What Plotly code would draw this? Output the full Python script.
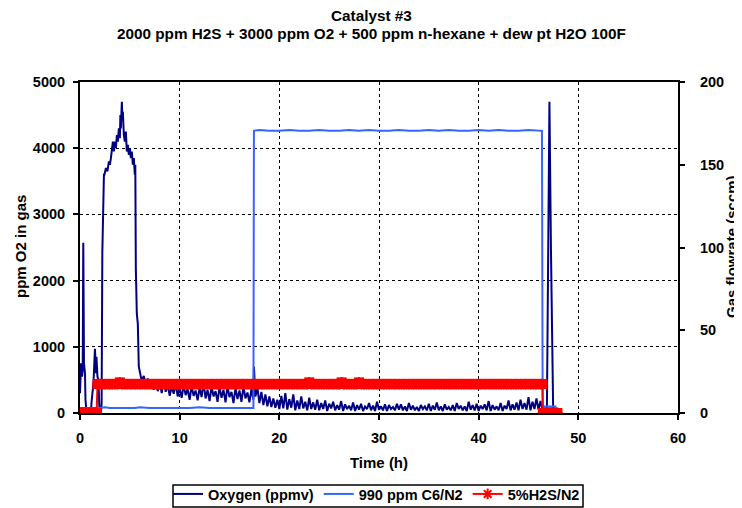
import plotly.graph_objects as go

# ---------------- data ----------------
# Oxygen (ppmv) vs time (h)
o2_time = [
    0.0, 0.1, 0.2, 0.27, 0.33, 0.4, 0.5, 0.55, 0.65, 0.9, 1.1, 1.15, 1.35, 1.5, 1.6, 1.65, 1.75, 1.85, 1.95, 2.1,
    2.17, 2.24, 2.4, 2.45, 2.6, 2.75, 2.9, 3.0, 3.1, 3.2, 3.3, 3.4, 3.5, 3.6, 3.7, 3.8, 3.9, 4.0, 4.05, 4.1,
    4.15, 4.2, 4.25, 4.3, 4.4, 4.5, 4.6, 4.7, 4.8, 4.9, 5.0, 5.1, 5.2, 5.3, 5.4, 5.5, 5.55, 5.6, 5.7, 5.8, 5.9,
    6.0, 6.2, 6.4, 6.6, 6.8, 7.0, 7.2, 7.4, 7.6, 7.8, 8.0, 8.2, 8.4, 8.6, 8.8, 9.0, 9.2, 9.4, 9.6, 9.8,
    10.0, 10.2, 10.4, 10.6, 10.8, 11.0, 11.2, 11.4, 11.6, 11.8, 12.0, 12.2, 12.4, 12.6, 12.8, 13.0, 13.2, 13.4, 13.6, 13.8,
    14.0, 14.2, 14.4, 14.6, 14.8, 15.0, 15.2, 15.4, 15.6, 15.8, 16.0, 16.2, 16.4, 16.6, 16.8, 17.0, 17.2, 17.4,
    17.45, 17.5, 17.6, 17.8, 18.0, 18.2, 18.4, 18.6, 18.8, 19.0, 19.2, 19.4, 19.6, 19.8,
    20.0, 20.2, 20.4, 20.6, 20.8, 21.0, 21.2, 21.4, 21.6, 21.8, 22.0, 22.2, 22.4, 22.6, 22.8, 23.0, 23.2, 23.4, 23.6, 23.8,
    24.0, 24.2, 24.4, 24.6, 24.8, 25.0, 25.2, 25.4, 25.6, 25.8, 26.0, 26.2, 26.4, 26.6, 26.8, 27.0, 27.2, 27.4, 27.6, 27.8,
    28.0, 28.2, 28.4, 28.6, 28.8, 29.0, 29.2, 29.4, 29.6, 29.8, 30.0, 30.2, 30.4, 30.6, 30.8, 31.0, 31.2, 31.4, 31.6, 31.8,
    32.0, 32.2, 32.4, 32.6, 32.8, 33.0, 33.2, 33.4, 33.6, 33.8, 34.0, 34.2, 34.4, 34.6, 34.8, 35.0, 35.2, 35.4, 35.6, 35.8,
    36.0, 36.2, 36.4, 36.6, 36.8, 37.0, 37.2, 37.4, 37.6, 37.8, 38.0, 38.2, 38.4, 38.6, 38.8, 39.0, 39.2, 39.4, 39.6, 39.8,
    40.0, 40.2, 40.4, 40.6, 40.8, 41.0, 41.2, 41.4, 41.6, 41.8, 42.0, 42.2, 42.4, 42.6, 42.8, 43.0, 43.2, 43.4, 43.6, 43.8,
    44.0, 44.2, 44.4, 44.6, 44.8, 45.0, 45.2, 45.4, 45.6, 45.8, 46.0, 46.2, 46.4,
    46.5, 46.7, 46.85, 46.95, 47.1, 47.25, 47.37, 47.47, 47.6,
]
o2_ppm = [
    300, 750, 550, 650, 2570, 750, 600, 200, 20, 0, 0, 150, 450, 970, 600, 850, 550, 500, 50, 0,
    150, 2420, 3600, 3600, 3700, 3650, 3800, 3750, 3850, 3950, 4100, 3950, 4100, 4000, 4200, 4100, 4300, 4150, 4500, 4300,
    4600, 4700, 4450, 4550, 4200, 4100, 4250, 3950, 4050, 3900, 4000, 3850, 3950, 3750, 3850, 3600, 3750, 2200, 1500, 1350, 700,
    620, 480, 560, 420, 520, 380, 470, 350, 500, 330, 450, 300, 480, 320, 430, 260, 400, 290, 450, 250,
    380, 230, 420, 270, 360, 200, 410, 260, 340, 190, 380, 240, 460, 220, 350, 180, 400, 250, 330, 170,
    390, 230, 350, 160, 410, 240, 320, 150, 380, 210, 340, 170, 400, 220, 310, 160, 360, 200,
    700, 450, 250, 380, 150, 320, 120, 280, 100, 250, 90, 220, 80, 200,
    60, 260, 70, 300, 50, 210, 80, 280, 40, 190, 60, 250, 70, 170, 40, 230, 60, 160, 50, 200,
    40, 150, 60, 190, 30, 140, 70, 170, 40, 120, 50, 180, 30, 130, 60, 110, 40, 160, 30, 120,
    50, 140, 30, 100, 60, 150, 40, 110, 30, 170, 50, 100, 40, 130, 30, 120, 60, 90, 40, 140,
    50, 130, 40, 100, 30, 150, 50, 110, 40, 90, 30, 120, 60, 100, 40, 140, 30, 110, 50, 160,
    40, 100, 30, 130, 50, 90, 40, 120, 30, 150, 60, 110, 40, 100, 30, 170, 50, 120, 40, 140,
    30, 110, 60, 130, 40, 180, 30, 120, 50, 100, 40, 150, 30, 110, 60, 190, 40, 130, 50, 160,
    40, 200, 60, 150, 50, 240, 40, 170, 60, 220, 50, 180, 40,
    80, 20, 100, 2500, 4700, 2500, 850, 100, 30,
]

# 990 ppm C6/N2 flow (sccm)
c6_time = [
    0.0, 0.5, 1.0, 1.5, 2.0, 2.5, 3.0, 3.5, 4.0, 4.5, 5.0, 5.5, 6.0, 7.0, 8.0, 9.0, 10.0, 11.0, 12.0, 13.0,
    14.0, 15.0, 16.0, 17.0, 17.4, 17.45,
    18.0, 19.0, 20.0, 21.0, 22.0, 23.0, 24.0, 25.0, 26.0, 27.0, 28.0, 29.0, 30.0, 31.0, 32.0, 33.0, 34.0, 35.0,
    36.0, 37.0, 38.0, 39.0, 40.0, 41.0, 42.0, 43.0, 44.0, 45.0, 46.0, 46.35, 46.42,
    46.8, 47.2, 47.8,
]
c6_sccm = [
    3, 3, 3, 3, 3, 3.5, 3, 3, 3, 3, 3, 3, 3.5, 3, 3, 3, 3, 3, 3.5, 3,
    3, 3, 3, 3, 3, 170.5,
    171, 170.5, 170.5, 171, 170.5, 170.5, 171, 170.5, 170.5, 171, 170.5, 171, 170.5, 170.5, 171, 170.5, 170.5, 171,
    170.5, 171, 170.5, 170.5, 171, 170.5, 171, 170.5, 170.5, 171, 170.5, 170.5, 4,
    4, 4, 4,
]

# 5%H2S/N2 flow (sccm)
h2s_time = [
    0.0, 0.1, 0.2, 0.3, 0.4, 0.5, 0.6, 0.7, 0.8, 0.9, 1.0, 1.1, 1.2, 1.3, 1.4, 1.5, 1.6, 1.67,
    1.75, 2.0, 2.25, 2.5, 2.75, 3.0, 3.25, 3.5, 3.75, 4.0, 4.25, 4.5, 4.75, 5.0, 5.25, 5.5, 5.75, 6.0, 6.25, 6.5, 6.75,
    7.0, 7.25, 7.5, 7.75, 8.0, 8.25, 8.5, 8.75, 9.0, 9.25, 9.5, 9.75, 10.0, 10.25, 10.5, 10.75, 11.0, 11.25, 11.5, 11.75,
    12.0, 12.25, 12.5, 12.75, 13.0, 13.25, 13.5, 13.75, 14.0, 14.25, 14.5, 14.75, 15.0, 15.25, 15.5, 15.75, 16.0, 16.25, 16.5, 16.75,
    17.0, 17.25, 17.5, 17.75, 18.0, 18.25, 18.5, 18.75, 19.0, 19.25, 19.5, 19.75, 20.0, 20.25, 20.5, 20.75, 21.0, 21.25, 21.5, 21.75,
    22.0, 22.25, 22.5, 22.75, 23.0, 23.25, 23.5, 23.75, 24.0, 24.25, 24.5, 24.75, 25.0, 25.25, 25.5, 25.75, 26.0, 26.25, 26.5, 26.75,
    27.0, 27.25, 27.5, 27.75, 28.0, 28.25, 28.5, 28.75, 29.0, 29.25, 29.5, 29.75, 30.0, 30.25, 30.5, 30.75, 31.0, 31.25, 31.5, 31.75,
    32.0, 32.25, 32.5, 32.75, 33.0, 33.25, 33.5, 33.75, 34.0, 34.25, 34.5, 34.75, 35.0, 35.25, 35.5, 35.75, 36.0, 36.25, 36.5, 36.75,
    37.0, 37.25, 37.5, 37.75, 38.0, 38.25, 38.5, 38.75, 39.0, 39.25, 39.5, 39.75, 40.0, 40.25, 40.5, 40.75, 41.0, 41.25, 41.5, 41.75,
    42.0, 42.25, 42.5, 42.75, 43.0, 43.25, 43.5, 43.75, 44.0, 44.25, 44.5, 44.75, 45.0, 45.25, 45.5, 45.75, 46.0, 46.25, 46.4,
    46.45, 46.6, 46.7, 46.8, 46.9, 47.0, 47.1, 47.2, 47.3, 47.4, 47.5, 47.6, 47.7, 47.8, 47.9,
]
h2s_sccm = [
    0, 0, 0, 0, 0, 0, 0, 0, 0, 0, 0, 0, 0, 0, 0, 0, 0, 0,
    17.5, 17.5, 17.5, 17.5, 17.5, 17.5, 17.5, 17.5, 17.5, 18.5, 17.5, 17.5, 17.5, 17.5, 17.5, 17.5, 17.5, 17.5, 17.5, 17.5, 17.5,
    17.5, 17.5, 17.5, 17.5, 17.5, 17.5, 17.5, 17.5, 17.5, 17.5, 17.5, 17.5, 17.5, 17.5, 17.5, 17.5, 17.5, 17.5, 17.5, 17.5,
    17.5, 17.5, 17.5, 17.5, 17.5, 17.5, 17.5, 17.5, 17.5, 17.5, 17.5, 17.5, 17.5, 17.5, 17.5, 17.5, 17.5, 17.5, 17.5, 17.5,
    17.5, 17.5, 17.5, 17.5, 17.5, 17.5, 17.5, 17.5, 17.5, 17.5, 17.5, 17.5, 17.5, 17.5, 17.5, 17.5, 17.5, 17.5, 17.5, 17.5,
    17.5, 17.5, 17.5, 17.5, 18.5, 17.5, 17.5, 17.5, 17.5, 17.5, 17.5, 17.5, 17.5, 17.5, 17.5, 17.5, 17.5, 18.5, 17.5, 17.5,
    17.5, 17.5, 17.5, 17.5, 18.5, 17.5, 17.5, 17.5, 17.5, 17.5, 17.5, 17.5, 17.5, 17.5, 17.5, 17.5, 17.5, 17.5, 17.5, 17.5,
    17.5, 17.5, 17.5, 17.5, 17.5, 17.5, 17.5, 17.5, 17.5, 17.5, 17.5, 17.5, 17.5, 17.5, 17.5, 17.5, 17.5, 17.5, 17.5, 17.5,
    17.5, 17.5, 17.5, 17.5, 17.5, 17.5, 17.5, 17.5, 17.5, 17.5, 17.5, 17.5, 17.5, 17.5, 17.5, 17.5, 17.5, 17.5, 17.5, 17.5,
    17.5, 17.5, 17.5, 17.5, 17.5, 17.5, 17.5, 17.5, 17.5, 17.5, 17.5, 17.5, 17.5, 17.5, 17.5, 17.5, 17.5, 17.5, 17.5,
    0, 0, 0, 0, 0, 0, 0, 0, 0, 0, 0, 0, 0, 0, 0,
]

x_ticks = [0, 10, 20, 30, 40, 50, 60]
y_ticks = [0, 1000, 2000, 3000, 4000, 5000]
y2_ticks = [0, 50, 100, 150, 200]

title_line1 = "Catalyst #3"
title_line2 = "2000 ppm H2S + 3000 ppm O2 + 500 ppm n-hexane + dew pt H2O 100F"
x_title = "Time (h)"
y_title = "ppm O2 in gas"
y2_title = "Gas flowrate (sccm)"

# ---------------- figure ----------------
FONT = "Liberation Sans, Arial, sans-serif"
# the page body adds an 8 px margin, so the figure is 8 px smaller than the window
OFF = 8
FIG_W, FIG_H = 734, 500
ML, MR, MT, MB = 72, 64, 74, 95
PLOT_W = FIG_W - ML - MR
PLOT_H = FIG_H - MT - MB
PLOT_B = MT + PLOT_H


def px_x(page_x):
    return (page_x - OFF - ML) / PLOT_W


def px_y(page_y):
    return (PLOT_B - (page_y - OFF)) / PLOT_H


fig = go.Figure()
fig.add_trace(go.Scatter(
    x=o2_time, y=o2_ppm, name="Oxygen (ppmv)", mode="lines",
    line=dict(color="#000080", width=2), yaxis="y",
))
fig.add_trace(go.Scatter(
    x=c6_time, y=c6_sccm, name="990 ppm C6/N2", mode="lines",
    line=dict(color="#3366FF", width=2), yaxis="y2",
))
# dense marker band of the H2S series (solid look of crowded markers)
fig.add_trace(go.Scatter(
    x=h2s_time, y=h2s_sccm, mode="markers", showlegend=False, hoverinfo="skip",
    marker=dict(symbol="square", size=10, color="#FF0000", line=dict(width=0)),
    yaxis="y2",
))
fig.add_trace(go.Scatter(
    x=h2s_time, y=h2s_sccm, name="5%H2S/N2", mode="lines+markers",
    line=dict(color="#FF0000", width=2),
    marker=dict(symbol="asterisk-open", size=9, color="#FF0000",
                line=dict(color="#FF0000", width=2)),
    yaxis="y2",
))

tickfont = dict(family=FONT, size=14.5, color="black", weight="bold")
titlefont = dict(family=FONT, size=15, color="black", weight="bold")

# title (two centred lines)
fig.add_annotation(text=f"<b>{title_line1}</b>", xref="paper", yref="paper",
                   x=px_x(371), y=px_y(15), xanchor="center", yanchor="middle",
                   showarrow=False, font=dict(family=FONT, size=15.3, color="black"))
fig.add_annotation(text=f"<b>{title_line2}</b>", xref="paper", yref="paper",
                   x=px_x(371), y=px_y(33), xanchor="center", yanchor="middle",
                   showarrow=False, font=dict(family=FONT, size=15.3, color="black"))
# y axis titles
fig.add_annotation(text=f"<b>{y_title}</b>", xref="paper", yref="paper",
                   x=px_x(20), y=px_y(247), xanchor="center", yanchor="middle",
                   textangle=-90, showarrow=False, font=titlefont)
fig.add_annotation(text=f"<b>{y2_title}</b>", xref="paper", yref="paper",
                   x=px_x(731), y=px_y(247), xanchor="center", yanchor="middle",
                   textangle=-90, showarrow=False, font=titlefont)
# legend frame
fig.add_shape(type="rect", xref="paper", yref="paper",
              x0=px_x(173), x1=px_x(583), y0=px_y(507), y1=px_y(485),
              line=dict(color="black", width=1.5), fillcolor="rgba(0,0,0,0)", layer="above")

fig.update_layout(
    width=FIG_W, height=FIG_H,
    margin=dict(l=ML, r=MR, t=MT, b=MB, autoexpand=False),
    paper_bgcolor="white", plot_bgcolor="white",
    font=dict(family=FONT, size=15, color="black"),
    xaxis=dict(
        range=[0, 60], tickvals=x_ticks, ticktext=[str(v) for v in x_ticks],
        showline=True, linecolor="black", linewidth=2, mirror=True,
        ticks="outside", ticklen=5, tickwidth=2, tickcolor="black",
        ticklabelstandoff=6,
        showgrid=True, gridcolor="black", gridwidth=1, griddash="dot",
        zeroline=False, tickfont=tickfont, automargin=False,
        title=dict(text=x_title, font=titlefont, standoff=12),
    ),
    yaxis=dict(
        range=[0, 5000], tickvals=y_ticks, ticktext=[str(v) for v in y_ticks],
        showline=True, linecolor="black", linewidth=2,
        ticks="outside", ticklen=5, tickwidth=2, tickcolor="black",
        ticklabelstandoff=5,
        showgrid=True, gridcolor="black", gridwidth=1, griddash="dot",
        zeroline=False, tickfont=tickfont, automargin=False,
    ),
    yaxis2=dict(
        range=[0, 200], tickvals=y2_ticks,
        ticktext=["\u00a0\u00a0\u00a0" + str(v) for v in y2_ticks],
        overlaying="y", side="right",
        showline=True, linecolor="black", linewidth=2,
        ticks="outside", ticklen=5, tickwidth=2, tickcolor="black",
        showgrid=False, zeroline=False, tickfont=tickfont, automargin=False,
    ),
    legend=dict(
        orientation="h", x=px_x(168), xanchor="left", y=px_y(478), yanchor="top",
        borderwidth=0, bgcolor="rgba(0,0,0,0)",
        font=dict(family=FONT, size=14.5, color="black", weight="bold"),
        itemwidth=30, tracegroupgap=0,
    ),
    showlegend=True,
)

fig.write_html("out.html")
